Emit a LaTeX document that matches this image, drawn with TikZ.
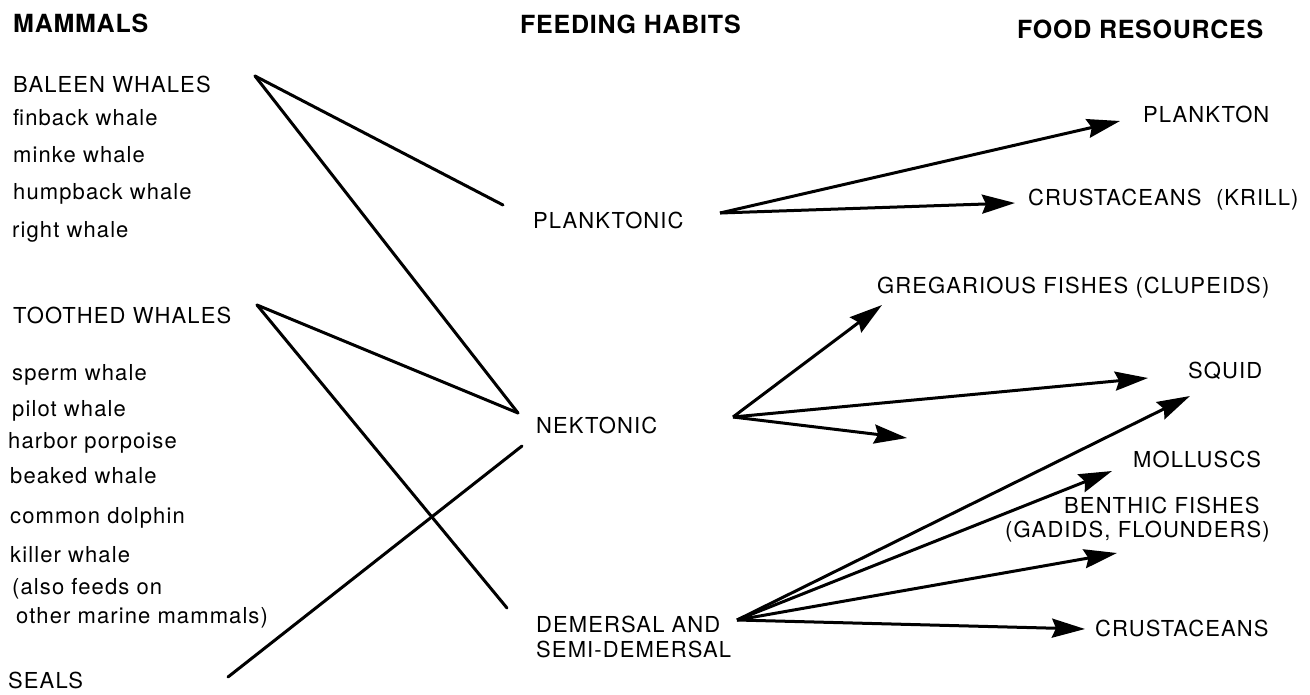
\documentclass[tikz,border=0pt]{standalone}
\usepackage{fontspec}
\setmainfont{TeX Gyre Heros}
\newfontfamily\bodyfont[LetterSpace=5.0]{TeX Gyre Heros}
\newfontfamily\headfont[LetterSpace=3.0]{TeX Gyre Heros}
\usetikzlibrary{arrows.meta}
\begin{document}
\begin{tikzpicture}[x=1pt,y=-1pt,
  lbl/.style={anchor=base west,inner sep=0pt,font=\bodyfont\fontsize{22}{24}\selectfont},
  head/.style={anchor=base west,inner sep=0pt,font=\headfont\fontsize{25}{28}\selectfont\bfseries},
  conn/.style={line width=3pt,line cap=round},
  arr/.style={line width=3pt,-{Stealth[length=33pt,width=19pt,inset=4pt]}}]
\useasboundingbox (0,0) rectangle (1310,694);
% headings
\node[head] (hmam) at (13,32) {MAMMALS};
\node[head] (hfeed) at (520,33) {FEEDING HABITS};
\node[head] (hfood) at (1017,38) {FOOD RESOURCES};
% mammals
\node[lbl] (baleen) at (13,92) {BALEEN WHALES};
\node[lbl] (finback) at (13,125) {finback whale};
\node[lbl] (minke) at (13,162) {minke whale};
\node[lbl] (humpback) at (13,199) {humpback whale};
\node[lbl] (right) at (12,237) {right whale};
\node[lbl] (toothed) at (13,323) {TOOTHED WHALES};
\node[lbl] (sperm) at (12,380) {sperm whale};
\node[lbl] (pilot) at (12,416) {pilot whale};
\node[lbl] (harbor) at (8,448) {harbor porpoise};
\node[lbl] (beaked) at (10,483) {beaked whale};
\node[lbl] (common) at (10,523) {common dolphin};
\node[lbl] (killer) at (10,562) {killer whale};
\node[lbl] (also) at (12,594) {(also feeds on};
\node[lbl] (other) at (16,623) {other marine mammals)};
\node[lbl] (seals) at (8,688) {SEALS};
% feeding habits
\node[lbl] (plank) at (533,228) {PLANKTONIC};
\node[lbl] (nekt) at (536,433) {NEKTONIC};
\node[lbl] (dem1) at (536,632) {DEMERSAL AND};
\node[lbl] (dem2) at (536,657) {SEMI-DEMERSAL};
% food resources
\node[lbl] (rplank) at (1143,122) {PLANKTON};
\node[lbl] (krill) at (1028,205) {CRUSTACEANS\ \ (KRILL)};
\node[lbl] (greg) at (877,293) {GREGARIOUS FISHES (CLUPEIDS)};
\node[lbl] (squid) at (1188,378) {SQUID};
\node[lbl] (moll) at (1133,467) {MOLLUSCS};
\node[lbl] (benth1) at (1064,513) {BENTHIC FISHES};
\node[lbl] (benth2) at (1005,537) {(GADIDS, FLOUNDERS)};
\node[lbl] (crust) at (1095,636) {CRUSTACEANS};
% connector end points
\coordinate (bApex) at (255,76);
\coordinate (tApex) at (257,305);
\coordinate (sealsOut) at (228,677);
\coordinate (plIn) at (503,205);
\coordinate (nkIn) at (518,413);
\coordinate (nkIn2) at (522,446);
\coordinate (dmIn) at (507,608);
\coordinate (plOut) at (720,213);
\coordinate (nkOut) at (733,417);
\coordinate (dmOut) at (737,620);
\coordinate (tPlank) at (1120,121);
\coordinate (tKrill) at (1015,203);
\coordinate (tGreg) at (882,305);
\coordinate (tSquidA) at (1148,378);
\coordinate (tShort) at (907,438);
\coordinate (tSquidB) at (1190,396);
\coordinate (tMoll) at (1112,471);
\coordinate (tBenth) at (1117,553);
\coordinate (tCrust) at (1085,629);
% mammals to feeding habits
\draw[conn] (bApex) -- (plIn);
\draw[conn] (bApex) -- (nkIn);
\draw[conn] (tApex) -- (nkIn);
\draw[conn] (tApex) -- (dmIn);
\draw[conn] (sealsOut) -- (nkIn2);
% feeding habits to food
\draw[arr] (plOut) -- (tPlank);
\draw[arr] (plOut) -- (tKrill);
\draw[arr] (nkOut) -- (tGreg);
\draw[arr] (nkOut) -- (tSquidA);
\draw[arr] (nkOut) -- (tShort);
\draw[arr] (dmOut) -- (tSquidB);
\draw[arr] (dmOut) -- (tMoll);
\draw[arr] (dmOut) -- (tBenth);
\draw[arr] (dmOut) -- (tCrust);
\end{tikzpicture}
\end{document}
